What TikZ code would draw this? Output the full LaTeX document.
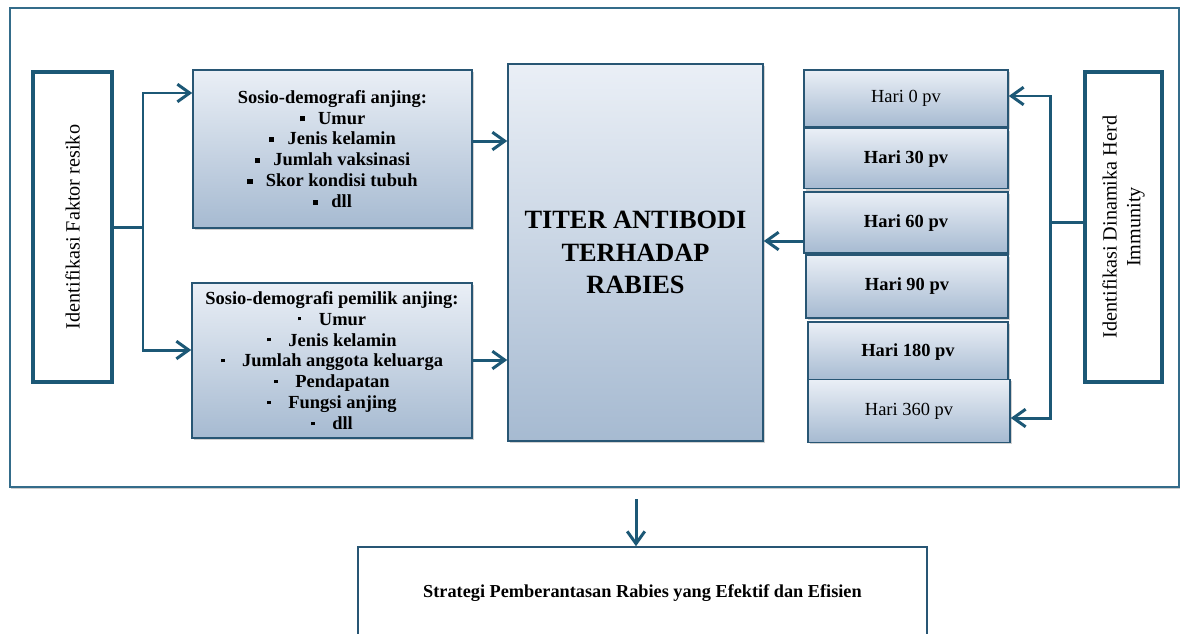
\documentclass[tikz,border=0pt]{standalone}
\usepackage{fontspec}
\setmainfont{Liberation Serif}
\usetikzlibrary{positioning, arrows.meta, shadows}

\definecolor{lineteal}{RGB}{28,88,118}
\definecolor{frameteal}{RGB}{52,108,138}
\definecolor{boxedge}{RGB}{40,86,116}
\definecolor{boxtop}{RGB}{234,239,246}
\definecolor{boxbot}{RGB}{166,186,209}

\newcommand{\sq}{\rule[0.15em]{3pt}{3pt}\hspace{7.5pt}}
\newcommand{\dt}{\rule[0.25em]{2pt}{2pt}\hspace{10pt}}

\begin{document}
\begin{tikzpicture}[x=0.02cm, y=-0.02cm, node distance=1.5cm,
	plainbox/.style={draw=lineteal, line width=2.2, fill=white, rotate=90, align=center,
		font=\fontsize{11.5}{13.5}\selectfont},
	gradbox/.style={draw=boxedge, line width=0.9, top color=boxtop, bottom color=boxbot,
		drop shadow={shadow xshift=1pt, shadow yshift=-1.2pt, opacity=0.35},
		align=center, font=\bfseries\fontsize{10.5}{11.9}\selectfont},
	harinode/.style={gradbox, minimum width=4.08cm},
	link/.style={-{Straight Barb[length=7pt,width=10pt]}, draw=lineteal, line width=1.7},
	line/.style={draw=lineteal, line width=1.7}]

		\useasboundingbox (0,0) rectangle (1183,633);
		\draw[draw=frameteal, line width=1.2, fill=white,
			drop shadow={shadow xshift=0.6pt, shadow yshift=-1.2pt, opacity=0.4}] (10,8) rectangle (1179,487);

		% nodes - left side %
		\node[plainbox, minimum width=6.2cm, minimum height=1.58cm] (faktor) at (72.5,227) {Identifikasi Faktor resiko};
		\node[gradbox, minimum width=5.58cm, minimum height=3.16cm] (anjing) at (332.5,149)
			{Sosio-demografi anjing:\\ \sq Umur\\ \sq Jenis kelamin\\ \sq Jumlah vaksinasi\\ \sq Skor kondisi tubuh\\ \sq dll};
		\node[gradbox, minimum width=5.6cm, minimum height=3.1cm] (pemilik) at (332,360.5)
			{Sosio-demografi pemilik anjing:\\ \dt Umur\\ \dt Jenis kelamin\\ \dt Jumlah anggota keluarga\\ \dt Pendapatan\\ \dt Fungsi anjing\\ \dt dll};

		% nodes - centre %
		\node[gradbox, minimum width=5.1cm, minimum height=7.54cm, font=\bfseries\fontsize{15}{18.7}\selectfont] (titer) at (635.5,252.5)
			{TITER ANTIBODI\\TERHADAP\\RABIES};

		% nodes - right side %
		\node[harinode, minimum height=1.14cm, font=\fontsize{10.5}{12}\selectfont] (hari0) at (906,98.5) {Hari 0 pv};
		\node[harinode, minimum height=1.2cm, below=0pt of hari0] (hari30) {Hari 30 pv};
		\node[harinode, minimum height=1.22cm, below=0.04cm of hari30] (hari60) {Hari 60 pv};
		\node[harinode, minimum height=1.26cm, minimum width=4.04cm, below=0pt of hari60, xshift=0.02cm] (hari90) {Hari 90 pv};
		\node[harinode, minimum height=1.18cm, minimum width=4.0cm, below=0.06cm of hari90, xshift=0.02cm] (hari180) {Hari 180 pv};
		\node[harinode, minimum height=1.26cm, minimum width=4.04cm, below=-0.07cm of hari180, xshift=0.02cm,
			font=\fontsize{10.5}{12}\selectfont] (hari360) {Hari 360 pv};
		\node[plainbox, minimum width=6.2cm, minimum height=1.54cm] (herd) at (1123.5,227) {Identifikasi Dinamika Herd\\Immunity};

		% node - bottom %
		\node[draw=boxedge, line width=0.9, fill=white, minimum width=11.38cm, minimum height=1.86cm,
			font=\bfseries\fontsize{10.4}{12}\selectfont] (strategi) at (642.5,593.5)
			{Strategi Pemberantasan Rabies yang Efektif dan Efisien};

		% edges %
		\coordinate (fork) at (143,227);
		\coordinate (fork2) at (1050,222);
		\coordinate (out) at (636,499);
		\draw[line] (faktor.south |- fork) -- (fork);
		\draw[link] (fork) |- (anjing.west |- 0,93);
		\draw[link] (fork) |- (pemilik.west |- 0,350);
		\draw[link] (anjing.east |- 0,141) -- (titer.west |- 0,141);
		\draw[link] (pemilik.east |- 0,360) -- (titer.west |- 0,360);
		\draw[link] (hari60.west |- 0,241) -- (titer.east |- 0,241);
		\draw[line] (herd.north |- fork2) -- (fork2);
		\draw[link] (fork2) |- (hari0.east |- 0,96);
		\draw[link] (fork2) |- (hari360.east |- 0,418);
		\draw[link] (out) -- (out |- strategi.north);

		\end{tikzpicture}
\end{document}
